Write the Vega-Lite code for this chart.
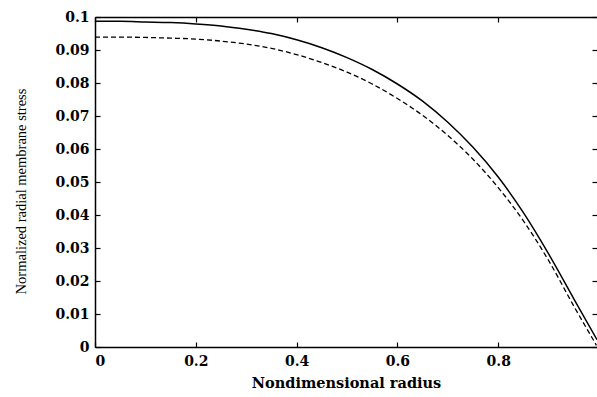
{
  "$schema": "https://vega.github.io/schema/vega-lite/v6.json",
  "width": 502,
  "height": 330,
  "autosize": {"type": "none"},
  "padding": {"left": 95, "top": 17, "right": 0, "bottom": 50},
  "background": "white",
  "config": {
    "view": {"stroke": null},
    "axis": {
      "grid": false,
      "domainColor": "black",
      "domainWidth": 1.5,
      "tickColor": "black",
      "tickWidth": 1.2,
      "tickSize": -5,
      "labelFont": "DejaVu Serif",
      "labelFontWeight": "bold",
      "labelFontSize": 14,
      "labelColor": "black",
      "titleColor": "black"
    }
  },
  "data": {
    "values": [
      {"r": 0, "v": 0.0987, "series": "solid"},
      {"r": 0.05, "v": 0.0987, "series": "solid"},
      {"r": 0.1, "v": 0.0985, "series": "solid"},
      {"r": 0.15, "v": 0.0983, "series": "solid"},
      {"r": 0.2, "v": 0.0979, "series": "solid"},
      {"r": 0.25, "v": 0.0973, "series": "solid"},
      {"r": 0.3, "v": 0.0963, "series": "solid"},
      {"r": 0.35, "v": 0.095, "series": "solid"},
      {"r": 0.4, "v": 0.0931, "series": "solid"},
      {"r": 0.45, "v": 0.0907, "series": "solid"},
      {"r": 0.5, "v": 0.0877, "series": "solid"},
      {"r": 0.55, "v": 0.0841, "series": "solid"},
      {"r": 0.6, "v": 0.0797, "series": "solid"},
      {"r": 0.65, "v": 0.0745, "series": "solid"},
      {"r": 0.7, "v": 0.0681, "series": "solid"},
      {"r": 0.75, "v": 0.0605, "series": "solid"},
      {"r": 0.8, "v": 0.0515, "series": "solid"},
      {"r": 0.85, "v": 0.0407, "series": "solid"},
      {"r": 0.9, "v": 0.0282, "series": "solid"},
      {"r": 0.95, "v": 0.0146, "series": "solid"},
      {"r": 0.996, "v": 0.0022, "series": "solid"},
      {"r": 0, "v": 0.0939, "series": "dashed"},
      {"r": 0.05, "v": 0.0939, "series": "dashed"},
      {"r": 0.1, "v": 0.0938, "series": "dashed"},
      {"r": 0.15, "v": 0.0936, "series": "dashed"},
      {"r": 0.2, "v": 0.0933, "series": "dashed"},
      {"r": 0.25, "v": 0.0927, "series": "dashed"},
      {"r": 0.3, "v": 0.0918, "series": "dashed"},
      {"r": 0.35, "v": 0.0905, "series": "dashed"},
      {"r": 0.4, "v": 0.0886, "series": "dashed"},
      {"r": 0.45, "v": 0.0862, "series": "dashed"},
      {"r": 0.5, "v": 0.0833, "series": "dashed"},
      {"r": 0.55, "v": 0.0797, "series": "dashed"},
      {"r": 0.6, "v": 0.0753, "series": "dashed"},
      {"r": 0.65, "v": 0.0702, "series": "dashed"},
      {"r": 0.7, "v": 0.0641, "series": "dashed"},
      {"r": 0.75, "v": 0.0569, "series": "dashed"},
      {"r": 0.8, "v": 0.0483, "series": "dashed"},
      {"r": 0.85, "v": 0.0382, "series": "dashed"},
      {"r": 0.9, "v": 0.0262, "series": "dashed"},
      {"r": 0.95, "v": 0.0124, "series": "dashed"},
      {"r": 0.995, "v": 0.0005, "series": "dashed"}
    ]
  },
  "layer": [
    {
      "transform": [{"filter": "datum.series == 'solid'"}],
      "mark": {"type": "line", "color": "black", "strokeWidth": 1.5, "interpolate": "monotone"},
      "encoding": {
        "x": {
          "field": "r",
          "type": "quantitative",
          "scale": {"domain": [0, 0.996], "nice": false, "zero": false},
          "axis": {
            "values": [0, 0.2, 0.4, 0.6, 0.8],
            "format": "~g",
            "labelPadding": 12,
            "title": "Nondimensional radius",
            "titleFont": "DejaVu Serif",
            "titleFontWeight": "bold",
            "titleFontSize": 14.5,
            "titleBaseline": "middle",
            "titleY": 36
          }
        },
        "y": {
          "field": "v",
          "type": "quantitative",
          "scale": {"domain": [0, 0.1], "nice": false},
          "axis": {
            "values": [0, 0.01, 0.02, 0.03, 0.04, 0.05, 0.06, 0.07, 0.08, 0.09, 0.1],
            "format": "~g",
            "labelPadding": 11,
            "title": "Normalized radial membrane stress",
            "titleFont": "Liberation Serif",
            "titleFontWeight": "normal",
            "titleFontSize": 14.5,
            "titleBaseline": "alphabetic",
            "titleX": -70,
            "titleY": 174
          }
        }
      }
    },
    {
      "transform": [{"filter": "datum.series == 'dashed'"}],
      "mark": {"type": "line", "color": "black", "strokeWidth": 1.3, "strokeDash": [5, 3], "interpolate": "monotone"},
      "encoding": {
        "x": {
          "field": "r",
          "type": "quantitative",
          "axis": {
            "orient": "top",
            "values": [0, 0.2, 0.4, 0.6, 0.8],
            "labels": false,
            "title": null
          }
        },
        "y": {
          "field": "v",
          "type": "quantitative",
          "axis": {
            "orient": "right",
            "values": [0, 0.01, 0.02, 0.03, 0.04, 0.05, 0.06, 0.07, 0.08, 0.09, 0.1],
            "labels": false,
            "domain": false,
            "title": null
          }
        }
      }
    }
  ],
  "resolve": {"axis": {"x": "independent", "y": "independent"}}
}
